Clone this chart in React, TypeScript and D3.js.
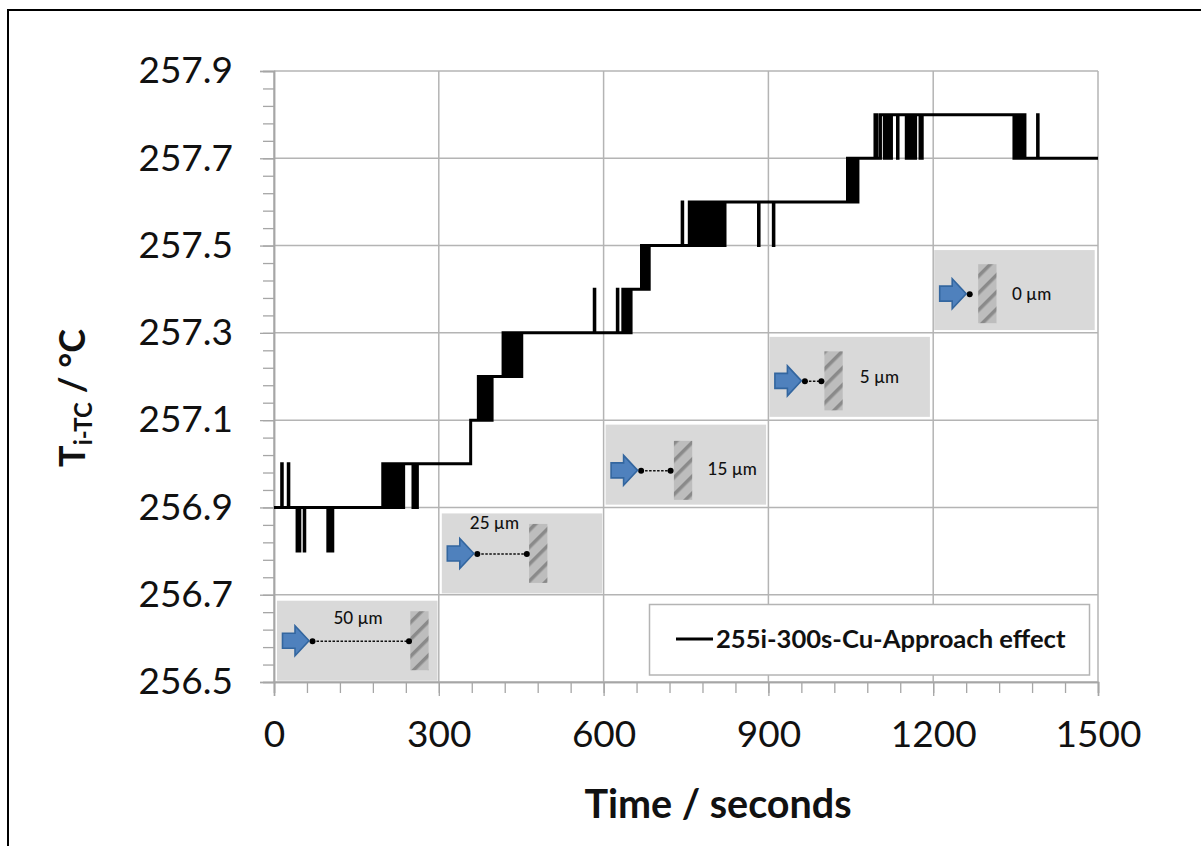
import React, { useRef, useEffect } from "react";
import * as d3 from "d3";

// plateau level of the thermocouple reading and the time it starts
const baseTimes = [0, 198, 358, 372, 417, 635, 669, 756, 1044, 1104, 1367];
const baseTemps = [256.9, 257.0, 257.1, 257.2, 257.3, 257.4, 257.5, 257.6, 257.7, 257.8, 257.7];

// one second flickers away from the plateau, grouped by the level they reach
const flicker2568 = [42, 46, 55, 98, 102, 106];
const flicker2569 = [200, 204, 209, 213, 218, 222, 227, 231, 235, 253, 257, 260];
const flicker2570 = [14, 26];
const flicker2571 = [374, 378, 382, 386, 390, 393, 396];
const flicker2572 = [419, 423, 427, 431, 435, 439, 443, 447, 450];
const flicker2573 = [637, 641, 645, 649];
const flicker2574 = [583, 625, 671, 675, 679, 682];
const flicker2575 = [758, 762, 766, 770, 774, 778, 782, 786, 790, 794, 798, 802, 806, 812, 816, 820, 882, 909];
const flicker2576 = [743, 1046, 1050, 1054, 1058, 1062];
const flicker2577 = [1111, 1115, 1119, 1123, 1135, 1151, 1155, 1159, 1163, 1167, 1176, 1179, 1347, 1351, 1355, 1359, 1363, 1365];
const flicker2578 = [1094, 1097, 1105, 1390];

const endTime = 1500;
const xTicks = [0, 300, 600, 900, 1200, 1500];
const xMinorTicks = d3.range(0, 1501, 60);
const yTicks = [256.5, 256.7, 256.9, 257.1, 257.3, 257.5, 257.7, 257.9];
const yMinorTicks = d3.range(0, 36).map((i) => 256.5 + i * 0.04);

const legendLabel = "255i-300s-Cu-Approach effect";

// inset sketches, one per grid cell
const gapLabels = ["50 µm", "25 µm", "15 µm", "5 µm", "0 µm"];
const insetStart = [0, 300, 600, 900, 1200];
const insetTop = [256.7, 256.9, 257.1, 257.3, 257.5];
const insetPadX = [3, 3, 2, 1, 1];
const insetPadY = [6, 6, 4.5, 4, 4.5];
const arrowY = [40, 40, 45.7, 44, 43.6];
const hatchX = [133.3, 87.3, 68.3, 55, 44];
const secondDotX = [132, 85, 65, 52, null];
const labelX = [81, 52.6, 126.6, 110, 97.4];
const labelY = [17, 10, 44, 40.5, 44.3];

function App() {
  const chartRef = useRef(null);

  useEffect(() => {
    // clear the svg
    d3.select(chartRef.current).selectAll("*").remove();

    const svg = d3.select(chartRef.current);
    const font = "Lato, 'Open Sans', sans-serif";
    const gridColor = "#b4b4b4";

    const x = d3.scaleLinear().domain([0, 1500]).range([274, 1098]);
    const y = d3.scaleLinear().domain([256.5, 257.9]).range([682, 71]);

    // hatch for the wall in the insets
    const pattern = svg
      .append("defs")
      .append("pattern")
      .attr("id", "wall-hatch")
      .attr("patternUnits", "userSpaceOnUse")
      .attr("width", 12)
      .attr("height", 12)
      .attr("patternTransform", "rotate(-45)");
    pattern.append("rect").attr("width", 12).attr("height", 12).attr("fill", "#bdbdbd");
    pattern.append("rect").attr("width", 12).attr("height", 3.5).attr("fill", "#8a8a8a");

    // outer frame, only its top and left edges fall inside the picture
    svg
      .append("rect")
      .attr("x", 8)
      .attr("y", 10)
      .attr("width", 1300)
      .attr("height", 900)
      .attr("fill", "#fff")
      .attr("stroke", "#000")
      .attr("stroke-width", 2);

    // grid
    svg
      .append("g")
      .selectAll("line")
      .data(yTicks)
      .enter()
      .append("line")
      .attr("x1", x(0))
      .attr("x2", x(1500))
      .attr("y1", (d) => y(d))
      .attr("y2", (d) => y(d))
      .attr("stroke", gridColor)
      .attr("stroke-width", 1.5);

    svg
      .append("g")
      .selectAll("line")
      .data(xTicks)
      .enter()
      .append("line")
      .attr("x1", (d) => x(d))
      .attr("x2", (d) => x(d))
      .attr("y1", y(257.9))
      .attr("y2", y(256.5))
      .attr("stroke", gridColor)
      .attr("stroke-width", 1.5);

    // minor ticks
    const xMinorAxis = d3.axisBottom(x).tickValues(xMinorTicks).tickSize(11).tickFormat(() => "");
    const yMinorAxis = d3.axisLeft(y).tickValues(yMinorTicks).tickSize(11).tickFormat(() => "");
    const xMajorAxis = d3.axisBottom(x).tickValues(xTicks).tickSize(14).tickPadding(25).tickFormat(d3.format("d"));
    const yMajorAxis = d3.axisLeft(y).tickValues(yTicks).tickSize(14).tickPadding(27).tickFormat(d3.format(".1f"));

    const axes = [
      { axis: xMinorAxis, at: `translate(0,${y(256.5)})` },
      { axis: yMinorAxis, at: `translate(${x(0)},0)` },
      { axis: xMajorAxis, at: `translate(0,${y(256.5)})` },
      { axis: yMajorAxis, at: `translate(${x(0)},0)` },
    ];
    axes.forEach(({ axis, at }) => {
      const g = svg.append("g").attr("transform", at).call(axis);
      g.selectAll("line").attr("stroke", "#a6a6a6").attr("stroke-width", 1.3);
      g.select(".domain").attr("stroke", "#a6a6a6").attr("stroke-width", 1.5);
      g.selectAll("text").attr("font-family", font).attr("font-size", 37).attr("fill", "#111");
    });

    // inset sketches
    gapLabels.forEach((label, i) => {
      const left = x(insetStart[i]) + insetPadX[i];
      const top = y(insetTop[i]) + insetPadY[i];
      const g = svg.append("g").attr("transform", `translate(${left},${top})`);
      const cy = arrowY[i];

      g.append("rect").attr("width", 160.5).attr("height", 80).attr("fill", "#d9d9d9");

      g.append("rect")
        .attr("x", hatchX[i])
        .attr("y", cy - 29.5)
        .attr("width", 18.3)
        .attr("height", 59)
        .attr("fill", "url(#wall-hatch)");

      const dots = secondDotX[i] === null ? [35.5] : [35.5, secondDotX[i] as number];
      if (dots.length > 1) {
        g.append("line")
          .attr("x1", dots[0])
          .attr("x2", dots[1])
          .attr("y1", cy + 0.5)
          .attr("y2", cy + 0.5)
          .attr("stroke", "#111")
          .attr("stroke-width", 1.5)
          .attr("stroke-dasharray", "2.5 1.5");
      }
      g.selectAll("circle")
        .data(dots)
        .enter()
        .append("circle")
        .attr("cx", (d) => d)
        .attr("cy", cy + 0.5)
        .attr("r", 3)
        .attr("fill", "#000");

      const arrow = d3.path();
      arrow.moveTo(5.5, cy - 7.5);
      arrow.lineTo(18, cy - 7.5);
      arrow.lineTo(18, cy - 15);
      arrow.lineTo(32, cy);
      arrow.lineTo(18, cy + 15);
      arrow.lineTo(18, cy + 7.5);
      arrow.lineTo(5.5, cy + 7.5);
      arrow.closePath();
      g.append("path")
        .attr("d", arrow.toString())
        .attr("fill", "#4f81bd")
        .attr("stroke", "#33669f")
        .attr("stroke-width", 1.6);

      g.append("text")
        .attr("x", labelX[i])
        .attr("y", labelY[i])
        .attr("dy", "0.35em")
        .attr("text-anchor", "middle")
        .attr("font-family", font)
        .attr("font-size", 17)
        .attr("font-weight", 500)
        .attr("fill", "#111")
        .text(label);
    });

    // build the trace from the plateaus and the flickers
    const flickers = [
      { level: 256.8, times: flicker2568 },
      { level: 256.9, times: flicker2569 },
      { level: 257.0, times: flicker2570 },
      { level: 257.1, times: flicker2571 },
      { level: 257.2, times: flicker2572 },
      { level: 257.3, times: flicker2573 },
      { level: 257.4, times: flicker2574 },
      { level: 257.5, times: flicker2575 },
      { level: 257.6, times: flicker2576 },
      { level: 257.7, times: flicker2577 },
      { level: 257.8, times: flicker2578 },
    ];
    const baseAt = (t: number) => baseTemps[d3.bisectRight(baseTimes, t) - 1];
    const trace: [number, number][] = baseTimes.map((t, i) => [t, baseTemps[i]]);
    flickers.forEach(({ level, times }) => {
      times.forEach((t) => {
        trace.push([t, level]);
        trace.push([t + 1, baseAt(t + 1)]);
      });
    });
    trace.push([endTime, baseAt(endTime)]);
    trace.sort((a, b) => a[0] - b[0]);

    const line = d3
      .line<[number, number]>()
      .x((d) => x(d[0]))
      .y((d) => y(d[1]))
      .curve(d3.curveStepAfter);

    svg
      .append("path")
      .attr("d", line(trace))
      .attr("fill", "none")
      .attr("stroke", "#000")
      .attr("stroke-width", 3)
      .attr("stroke-linejoin", "miter");

    // legend
    svg
      .append("rect")
      .attr("x", 649.5)
      .attr("y", 604.5)
      .attr("width", 440)
      .attr("height", 70.5)
      .attr("fill", "#fff")
      .attr("stroke", "#b4b4b4")
      .attr("stroke-width", 1.5);
    svg
      .append("line")
      .attr("x1", 676)
      .attr("x2", 713)
      .attr("y1", 639)
      .attr("y2", 639)
      .attr("stroke", "#000")
      .attr("stroke-width", 3);
    svg
      .append("text")
      .attr("x", 716)
      .attr("y", 648)
      .attr("font-family", font)
      .attr("font-weight", 700)
      .attr("font-size", 25.6)
      .attr("fill", "#111")
      .text(legendLabel);

    // axis titles
    svg
      .append("text")
      .attr("x", 718)
      .attr("y", 818)
      .attr("text-anchor", "middle")
      .attr("font-family", font)
      .attr("font-weight", 700)
      .attr("font-size", 39.5)
      .attr("fill", "#111")
      .text("Time / seconds");

    const yTitle = svg
      .append("text")
      .attr("transform", "translate(85,398) rotate(-90)")
      .attr("text-anchor", "middle")
      .attr("font-family", font)
      .attr("font-weight", 700)
      .attr("font-size", 36)
      .attr("fill", "#111");
    yTitle.append("tspan").text("T");
    yTitle.append("tspan").attr("font-size", 24).attr("dy", 7).text("i-TC");
    yTitle.append("tspan").attr("dy", -7).text(" / °C");
  }, []);

  return (
    <svg
      ref={chartRef}
      width={1201}
      height={846}
      viewBox="0 0 1201 846"
      style={{ position: "absolute", left: 0, top: 0 }}
    ></svg>
  );
}

export default App;
